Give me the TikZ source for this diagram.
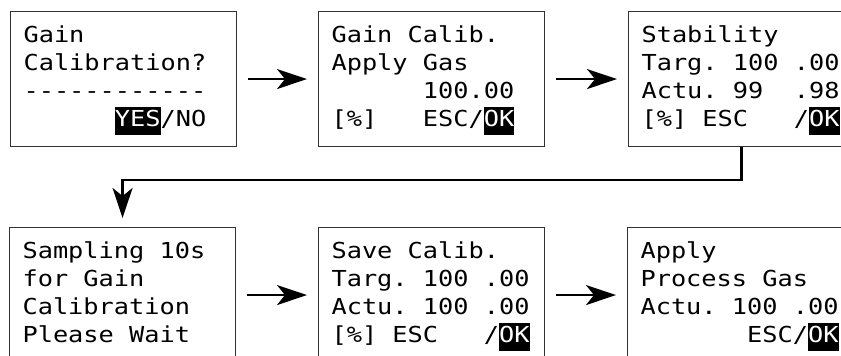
\documentclass[tikz,border=0pt]{standalone}
\usepackage{fontspec}
\usetikzlibrary{arrows.meta}
\newfontfamily\lcdfont[FakeStretch=1.15]{DejaVu Sans Mono}
\newlength\charw
\newcommand\lcdsetup{\lcdfont\fontsize{22}{28}\selectfont\frenchspacing
  \settowidth{\charw}{0}\setlength{\spaceskip}{\charw}\setlength{\xspaceskip}{\charw}}
\newcommand\sk[1]{\hspace*{#1\charw}}
\newcommand\hl[1]{{\setlength{\fboxsep}{0pt}\colorbox{black}{\strut\textcolor{white}{#1}}}}
\newcommand\dashline{-{}-{}-{}-{}-{}-{}-{}-{}-{}-{}-{}-}

\begin{document}
\begin{tikzpicture}[x=1pt,y=-1pt,
    screen/.style={draw=black!80, line width=1.1pt, minimum width=226pt, minimum height=135pt,
      text width=200pt, inner xsep=12pt, align=left, anchor=north west,
      execute at begin node=\lcdsetup\strut, execute at end node=\strut},
    flow/.style={line width=2.2pt, -{Stealth[length=30pt,width=20pt,inset=8pt]},
      shorten <=11pt, shorten >=11pt}]
        \useasboundingbox (0,0) rectangle (841,356);
        \clip (0,0) rectangle (841,356);

        % top row
        \node[screen] (s1) at (10,11) {Gain\\Calibration?\\\dashline\\\sk{6}\hl{YES}/NO};
        \node[screen] (s2) at (318,11) {Gain Calib.\\Apply Gas\\\sk{6}100.00\\{}[\%]\sk{3}ESC/\hl{OK}};
        \node[screen] (s3) at (628,11) {Stability\\Targ. 100 .00\\Actu. 99\sk{2}.98\\{}[\%] ESC\sk{3}/\hl{OK}};

        % bottom row
        \node[screen] (s4) at (9,227) {Sampling 10s\\for Gain\\Calibration\\Please Wait};
        \node[screen] (s5) at (318,227) {Save Calib.\\Targ. 100 .00\\Actu. 100 .00\\{}[\%] ESC\sk{3}/\hl{OK}};
        \node[screen] (s6) at (627,227) {Apply\\Process Gas\\Actu. 100 .00\\\sk{7}ESC/\hl{OK}};

        \draw[flow] (s1) -- (s2);
        \draw[flow] (s2) -- (s3);
        \draw[flow, shorten <=0pt, shorten >=9pt] (s3.south) -- ++(0,33) -| (s4.north);
        \draw[flow] (s4) -- (s5);
        \draw[flow] (s5) -- (s6);
    \end{tikzpicture}
\end{document}
